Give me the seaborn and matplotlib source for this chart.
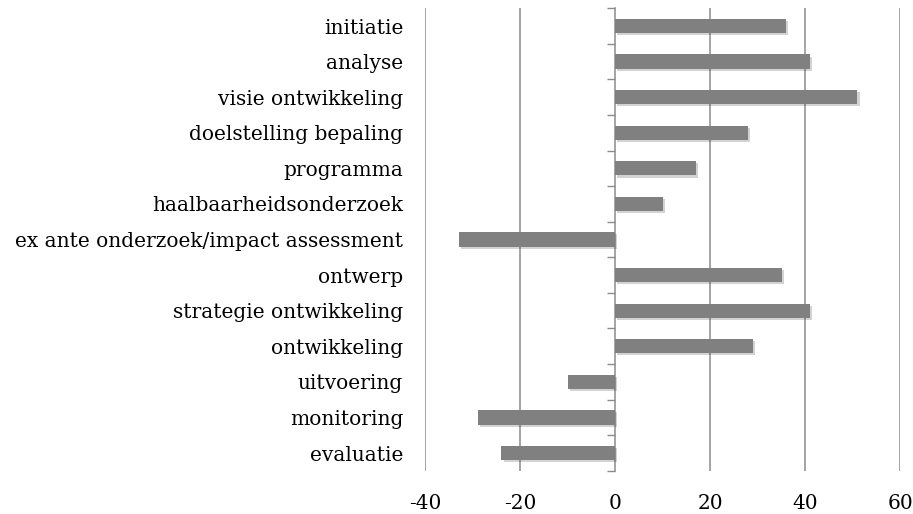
import numpy as np
import pandas as pd
import matplotlib
matplotlib.use("Agg")
import matplotlib.pyplot as plt
import matplotlib.patheffects as pe
import seaborn as sns

# data
phases = ["initiatie", "analyse", "visie ontwikkeling", "doelstelling bepaling",
          "programma", "haalbaarheidsonderzoek",
          "ex ante onderzoek/impact assessment", "ontwerp",
          "strategie ontwikkeling", "ontwikkeling", "uitvoering",
          "monitoring", "evaluatie"]
scores = [36, 41, 51, 28, 17, 10, -33, 35, 41, 29, -10, -29, -24]
x_ticks = [-40, -20, 0, 20, 40, 60]

df = pd.DataFrame({"fase": phases, "score": scores})

sns.set_style("white")
plt.rcParams["font.family"] = ["DejaVu Serif"]
plt.rcParams["axes.unicode_minus"] = False
plt.rcParams["text.color"] = "black"
plt.rcParams["xtick.color"] = "black"
plt.rcParams["ytick.color"] = "black"

fig = plt.figure(figsize=(9.13, 5.14), dpi=100)
ax = fig.add_axes([0.466, 0.084, 0.520, 0.900])

sns.barplot(data=df, x="score", y="fase", orient="h", color="#808080",
            saturation=1, width=0.4, ax=ax)
for bar in ax.patches:
    bar.set_linewidth(0)
    bar.set_path_effects([pe.SimplePatchShadow(offset=(1.5, -1.5), alpha=0.2),
                          pe.Normal()])

ax.set_xlim(-40, 60)
ax.set_ylim(len(phases) - 0.5, -0.5)
ax.set_xticks(x_ticks)
for v in x_ticks:
    if v != 0:
        ax.axvline(v, color="#8c8c8c", lw=1.1, zorder=0)

for s in ax.spines.values():
    s.set_visible(False)

ax.set_xlabel("")
ax.set_ylabel("")
ax.tick_params(axis="y", length=0, pad=16, labelsize=14.5, labelcolor="black")
ax.tick_params(axis="x", length=0, pad=17, labelsize=14.5, labelcolor="black")

# zero axis with tick marks between categories
sec = ax.secondary_yaxis(0.4)
sec.set_yticks(np.arange(-0.5, len(phases), 1.0))
sec.tick_params(axis="y", length=6, width=1, color="#8c8c8c", labelleft=False)
sec.spines["left"].set_color("#8c8c8c")
sec.spines["left"].set_linewidth(1.1)

fig.savefig("out.png", dpi=100)
